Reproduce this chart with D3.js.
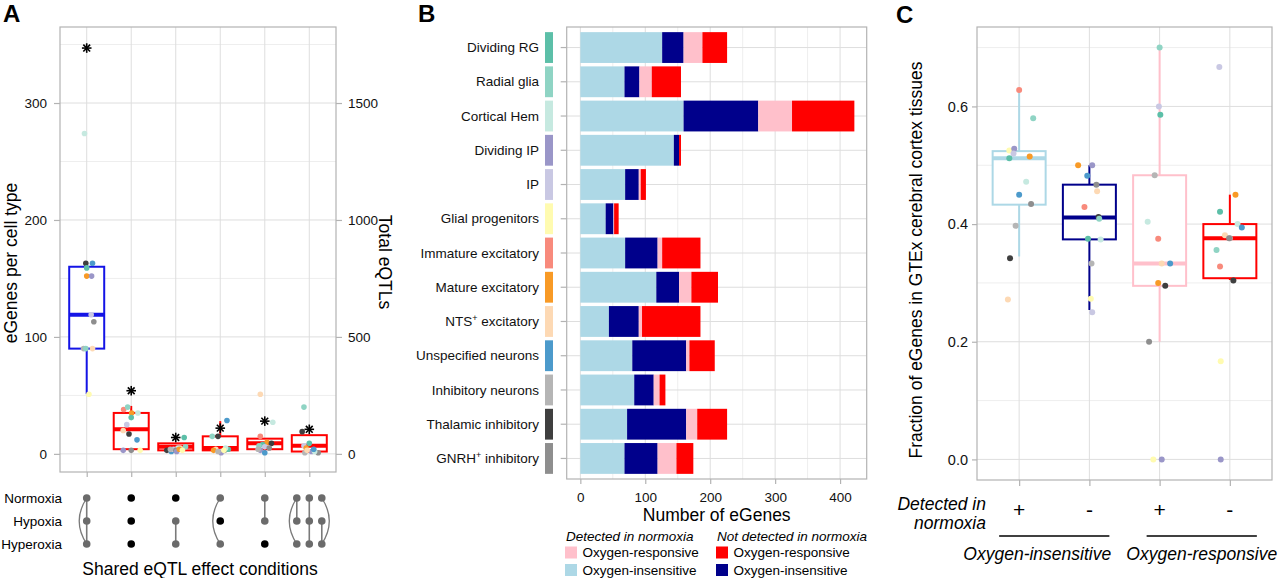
<!DOCTYPE html>
<html>
<head>
<meta charset="utf-8">
<script src="https://cdn.jsdelivr.net/npm/d3@7"></script>
<style>
    body { margin: 0; background: #fff; }
    text { font-family: "Liberation Sans", Arial, Helvetica, sans-serif; }
</style>
</head>
<body>
<svg id="fig" width="1280" height="578"></svg>
<script>
// ---- data ----
var cellTypes = ["Dividing RG", "Radial glia", "Cortical Hem", "Dividing IP", "IP", "Glial progenitors",
    "Immature excitatory", "Mature excitatory", "NTS+ excitatory", "Unspecified neurons",
    "Inhibitory neurons", "Thalamic inhibitory", "GNRH+ inhibitory"];
var cellColors = ["#5cbfa8", "#8fd4c4", "#c6e9e0", "#9a96c8", "#c9c8e3", "#fffbb0",
    "#f88a7c", "#f89a26", "#fdd9b4", "#4c9acb", "#b5b5b5", "#3f3f3f", "#8e8e8e"];

// panel A - eGenes per cell type by sharing pattern
var conditions = ["Normoxia", "Hypoxia", "Hyperoxia"];
var aLower = [90, 4, 3, 3, 4, 2];
var aMedian = [119, 21, 6, 5, 9, 7];
var aUpper = [160, 35, 9, 15, 13, 16];
var aWhiskLo = [51, 3, 2, 1, 1, 1];
var aWhiskHi = [163, 41, 9, 28, 13, 16];
var aBoxColors = ["#1414e6", "#ff0000", "#ff0000", "#ff0000", "#ff0000", "#ff0000"];
var totalEqtls = [1735, 270, 70, 110, 140, 105];
var aLeftTicks = [0, 100, 200, 300];
var aRightTicks = [0, 500, 1000, 1500];
// [cell type index, eGenes, jitter]
var aPoints = [
    [[2, 274, -0.05], [11, 163, -0.02], [9, 163, 0.13], [0, 159, 0.0], [7, 152, 0.0], [3, 152, 0.11], [4, 119, 0.1],
        [12, 113, 0.16], [10, 90, -0.07], [1, 90, -0.02], [8, 90, 0.13], [5, 51, 0.05]],
    [[6, 38, -0.17], [1, 40, -0.08], [7, 35, 0.01], [2, 35, 0.15], [0, 31, 0.0], [4, 25, -0.1], [8, 20, -0.18],
        [11, 17, -0.05], [9, 12, 0.13], [3, 3, -0.18], [12, 3, 0.0], [5, 3, 0.2]],
    [[0, 14, 0.19], [11, 3, -0.2], [9, 2, -0.1], [8, 5, 0.1], [1, 6, 0.22], [2, 5, 0.05], [4, 4, -0.05],
        [12, 3, 0.0], [3, 2, 0.02], [7, 4, 0.08], [5, 3, 0.15], [10, 4, -0.12]],
    [[9, 28.5, 0.15], [1, 15, -0.18], [11, 15, -0.05], [8, 4, -0.1], [7, 3, -0.15], [4, 2, 0.0], [3, 1, 0.02],
        [12, 3, 0.1], [0, 4, 0.18], [2, 5, 0.12], [10, 2, -0.05], [5, 3, 0.08]],
    [[8, 51, -0.1], [2, 27, 0.18], [6, 15, -0.1], [7, 10, 0.05], [11, 9, 0.15], [0, 8, -0.05], [1, 7, -0.13],
        [4, 6, 0.0], [3, 3, -0.1], [9, 1, 0.0], [12, 5, 0.1], [10, 4, -0.15]],
    [[1, 40, -0.12], [11, 19, -0.16], [0, 9, 0.0], [4, 7, -0.12], [7, 5, -0.07], [3, 2, 0.05], [12, 1, 0.2],
        [10, 1, -0.1], [2, 2, 0.12], [8, 3, -0.05], [9, 4, 0.1]]
];
// sharing pattern matrix: per column, sub-columns of [dot states, links]
// state 1 = condition specific (black), 0 = shared (grey); link type s=straight, l=arc left, r=arc right
var sharePatterns = [
    [{ dots: [0, 0, 0], links: [[0, 1, "s"], [1, 2, "s"], [0, 2, "l"]] }],
    [{ dots: [1, 1, 1], links: [] }],
    [{ dots: [1, 0, 0], links: [[1, 2, "s"]] }],
    [{ dots: [0, 1, 0], links: [[0, 2, "l"]] }],
    [{ dots: [0, 0, 1], links: [[0, 1, "s"]] }],
    [{ dots: [0, 0, 0], links: [[0, 1, "s"], [0, 2, "l"]] },
        { dots: [0, 0, 0], links: [[0, 1, "s"], [1, 2, "s"]] },
        { dots: [0, 0, 0], links: [[1, 2, "s"], [0, 2, "r"]] }]
];

// panel B - number of eGenes per cell type
var detInsensitive = [126, 68, 159, 144, 69, 39, 69, 117, 44, 80, 83, 72, 68];
var notDetInsensitive = [33, 23, 115, 8, 21, 12, 50, 35, 46, 83, 30, 91, 51];
var detResponsive = [29, 19, 52, 0, 3, 1, 7, 19, 5, 5, 9, 17, 29];
var notDetResponsive = [38, 45, 96, 3, 8, 7, 59, 41, 90, 39, 9, 46, 26];
var bTicks = [0, 100, 200, 300, 400];

// panel C - fraction of eGenes in GTEx cortex
var cGroups = ["ins+", "ins-", "resp+", "resp-"];
var cSigns = ["+", "-", "+", "-"];
var cLower = [0.433, 0.374, 0.295, 0.308];
var cMedian = [0.512, 0.411, 0.333, 0.376];
var cUpper = [0.524, 0.467, 0.483, 0.400];
var cWhiskLo = [0.345, 0.254, 0.200, 0.305];
var cWhiskHi = [0.628, 0.500, 0.700, 0.450];
var cBoxColors = ["#add8e6", "#00008b", "#ffc0cb", "#ff0000"];
var cTicks = [0, 0.2, 0.4, 0.6];
var cPoints = [
    [[6, 0.628, 0.0], [1, 0.58, 0.2], [5, 0.525, -0.14], [3, 0.528, -0.07], [4, 0.52, -0.08], [0, 0.512, -0.14],
        [7, 0.515, 0.15], [2, 0.472, 0.1], [9, 0.45, 0.0], [12, 0.434, 0.17], [10, 0.397, -0.05], [11, 0.342, -0.13], [8, 0.272, -0.16]],
    [[7, 0.5, -0.16], [3, 0.5, 0.04], [9, 0.482, -0.03], [12, 0.467, 0.1], [8, 0.456, 0.11], [6, 0.429, -0.07],
        [11, 0.412, 0.13], [1, 0.409, 0.14], [0, 0.375, -0.02], [2, 0.374, 0.16], [10, 0.333, 0.03], [5, 0.273, 0.02], [4, 0.25, 0.04]],
    [[1, 0.7, 0.0], [4, 0.6, -0.01], [0, 0.586, 0.01], [10, 0.483, -0.07], [2, 0.404, -0.17], [6, 0.375, -0.02],
        [8, 0.333, 0.03], [9, 0.333, 0.15], [7, 0.3, -0.02], [11, 0.295, 0.08], [12, 0.2, -0.15], [5, 0.0, -0.09], [3, 0.0, 0.03]],
    [[4, 0.667, -0.15], [7, 0.45, 0.08], [0, 0.421, -0.14], [2, 0.4, 0.11], [9, 0.394, 0.17], [8, 0.381, -0.07],
        [10, 0.376, 0.0], [12, 0.376, -0.01], [1, 0.356, -0.19], [6, 0.328, -0.14], [11, 0.304, 0.05], [5, 0.167, -0.13], [3, 0.0, -0.13]]
];

// ---- styles ----
var svg = d3.select("#fig");
var gridMajor = "#dedede";
var gridMinor = "#eeeeee";
var frameCol = "#b3b3b3";
var textCol = "#111";

function drawGrid(xs, ys, x0, x1, y0, y1, col) {
    xs.forEach(function (x) {
        svg.append("line").attr("x1", x).attr("x2", x).attr("y1", y0).attr("y2", y1)
            .attr("stroke", col).attr("stroke-width", 1);
    });
    ys.forEach(function (y) {
        svg.append("line").attr("x1", x0).attr("x2", x1).attr("y1", y).attr("y2", y)
            .attr("stroke", col).attr("stroke-width", 1);
    });
}

function drawFrame(x0, x1, y0, y1) {
    svg.append("rect").attr("x", x0).attr("y", y0).attr("width", x1 - x0).attr("height", y1 - y0)
        .attr("fill", "none").attr("stroke", frameCol).attr("stroke-width", 1.2);
}

function styleAxis(g, size) {
    g.select(".domain").remove();
    g.selectAll(".tick line").attr("stroke", frameCol).attr("stroke-width", 1.2);
    g.selectAll(".tick text").attr("fill", textCol).style("font-size", size + "px")
        .style("font-family", '"Liberation Sans", Arial, sans-serif');
}

function drawBox(cx, w, yScale, lo, q1, med, q3, hi, col) {
    svg.append("line").attr("x1", cx).attr("x2", cx).attr("y1", yScale(lo)).attr("y2", yScale(q1))
        .attr("stroke", col).attr("stroke-width", 2);
    svg.append("line").attr("x1", cx).attr("x2", cx).attr("y1", yScale(q3)).attr("y2", yScale(hi))
        .attr("stroke", col).attr("stroke-width", 2);
    svg.append("rect").attr("x", cx - w / 2).attr("y", yScale(q3)).attr("width", w)
        .attr("height", yScale(q1) - yScale(q3)).attr("fill", "#fff").attr("stroke", col).attr("stroke-width", 2);
    svg.append("line").attr("x1", cx - w / 2).attr("x2", cx + w / 2).attr("y1", yScale(med)).attr("y2", yScale(med))
        .attr("stroke", col).attr("stroke-width", 4);
}

function panelLetter(txt, x, y) {
    svg.append("text").attr("x", x).attr("y", y).text(txt)
        .style("font-size", "24px").style("font-weight", "bold").attr("fill", "#000");
}

// ================= Panel A =================
var aL = 60, aR = 336, aT = 27, aB = 472;
var aX = d3.scalePoint().domain(d3.range(6)).range([aL, aR]).padding(0.6);
var aY = d3.scaleLinear().domain([-15.5, 365]).range([aB, aT]);
var aY2 = d3.scaleLinear().domain([-77.5, 1825]).range([aB, aT]);

drawGrid([], [50, 150, 250, 350].map(aY), aL, aR, aT, aB, gridMinor);
drawGrid(d3.range(6).map(aX), aLeftTicks.map(aY), aL, aR, aT, aB, gridMajor);
drawFrame(aL, aR, aT, aB);

svg.append("g").attr("transform", "translate(" + aL + ",0)")
    .call(d3.axisLeft(aY).tickValues(aLeftTicks).tickSize(6).tickPadding(7))
    .call(styleAxis, 13.5);
svg.append("g").attr("transform", "translate(" + aR + ",0)")
    .call(d3.axisRight(aY2).tickValues(aRightTicks).tickFormat(d3.format("d")).tickSize(6).tickPadding(6))
    .call(styleAxis, 13.5);
svg.append("g").attr("transform", "translate(0," + aB + ")")
    .call(d3.axisBottom(aX).tickFormat("").tickSize(5))
    .call(styleAxis, 13.5);

var aStep = aX.step();
d3.range(6).forEach(function (i) {
    drawBox(aX(i), 35, aY, aWhiskLo[i], aLower[i], aMedian[i], aUpper[i], aWhiskHi[i], aBoxColors[i]);
});
aPoints.forEach(function (pts, i) {
    svg.append("g").selectAll("circle").data(pts).enter().append("circle")
        .attr("cx", function (d) { return aX(i) + d[2] * aStep; })
        .attr("cy", function (d) { return aY(d[1]); })
        .attr("r", 2.8)
        .attr("fill", function (d) { return cellColors[d[0]]; });
});

// asterisks = total eQTLs (right axis)
totalEqtls.forEach(function (v, i) {
    var cx = aX(i), cy = aY2(v), r = 4.8;
    var g = svg.append("g").attr("transform", "translate(" + cx + "," + cy + ")");
    [0, 45, 90, 135].forEach(function (a) {
        var rad = a * Math.PI / 180;
        g.append("line").attr("x1", -r * Math.cos(rad)).attr("y1", -r * Math.sin(rad))
            .attr("x2", r * Math.cos(rad)).attr("y2", r * Math.sin(rad))
            .attr("stroke", "#000").attr("stroke-width", 1.6);
    });
});

svg.append("text").attr("transform", "translate(16.5,263) rotate(-90)").attr("text-anchor", "middle")
    .style("font-size", "17.5px").attr("fill", "#000").text("eGenes per cell type");
svg.append("text").attr("transform", "translate(379,262) rotate(90)").attr("text-anchor", "middle")
    .style("font-size", "17.5px").attr("fill", "#000").text("Total eQTLs");

// sharing matrix below panel A
var rowY = d3.scalePoint().domain(conditions).range([498, 544]);
conditions.forEach(function (c) {
    svg.append("text").attr("x", 62).attr("y", rowY(c) + 4.7).attr("text-anchor", "end")
        .style("font-size", "13.5px").attr("fill", "#000").text(c);
});
sharePatterns.forEach(function (subs, i) {
    var offs = subs.length === 1 ? [0] : [-12.5, 0, 12.5];
    subs.forEach(function (s, k) {
        var x = aX(i) + offs[k];
        s.links.forEach(function (lk) {
            var y1 = rowY(conditions[lk[0]]), y2 = rowY(conditions[lk[1]]);
            if (lk[2] === "s") {
                svg.append("line").attr("x1", x).attr("x2", x).attr("y1", y1).attr("y2", y2)
                    .attr("stroke", "#7a7a7a").attr("stroke-width", 1.6);
            } else {
                var bx = lk[2] === "l" ? x - 15 : x + 15;
                svg.append("path").attr("d", "M" + x + "," + y1 + " Q" + bx + "," + ((y1 + y2) / 2) + " " + x + "," + y2)
                    .attr("fill", "none").attr("stroke", "#7a7a7a").attr("stroke-width", 1.3);
            }
        });
        s.dots.forEach(function (st, r) {
            svg.append("circle").attr("cx", x).attr("cy", rowY(conditions[r])).attr("r", 3.8)
                .attr("fill", st ? "#000" : "#6b6b6b");
        });
    });
});
svg.append("text").attr("x", 200).attr("y", 575).attr("text-anchor", "middle")
    .style("font-size", "17.5px").attr("fill", "#000").text("Shared eQTL effect conditions");

panelLetter("A", 3, 22);

// ================= Panel B =================
var bL = 566.7, bR = 866.7, bT = 27, bB = 479;
var bX = d3.scaleLinear().domain([-21, 441]).range([bL, bR]);
var bY = d3.scaleBand().domain(cellTypes).range([bT, bB]).paddingInner(0.1).paddingOuter(0.15);

drawGrid([50, 150, 250, 350].map(bX), [], bL, bR, bT, bB, gridMinor);
drawGrid(bTicks.map(bX), cellTypes.map(function (c) { return bY(c) + bY.bandwidth() / 2; }), bL, bR, bT, bB, gridMajor);
drawFrame(bL, bR, bT, bB);

var bRows = cellTypes.map(function (c, i) {
    return { cell: c, di: detInsensitive[i], ni: notDetInsensitive[i], dr: detResponsive[i], nr: notDetResponsive[i] };
});
var bKeys = ["di", "ni", "dr", "nr"];
var bColors = { di: "#add8e6", ni: "#00008b", dr: "#ffc0cb", nr: "#ff0000" };
var stacked = d3.stack().keys(bKeys)(bRows);
svg.append("g").selectAll("g").data(stacked).enter().append("g")
    .attr("fill", function (d) { return bColors[d.key]; })
    .selectAll("rect").data(function (d) { return d; }).enter().append("rect")
    .attr("x", function (d) { return bX(d[0]); })
    .attr("width", function (d) { return bX(d[1]) - bX(d[0]); })
    .attr("y", function (d) { return bY(d.data.cell); })
    .attr("height", bY.bandwidth());

svg.append("g").attr("transform", "translate(" + bL + ",0)")
    .call(d3.axisLeft(bY).tickFormat("").tickSize(6))
    .call(styleAxis, 13.5);
svg.append("g").attr("transform", "translate(0," + bB + ")")
    .call(d3.axisBottom(bX).tickValues(bTicks).tickSize(5).tickPadding(8))
    .call(styleAxis, 13.5);

// category labels (with superscript +) and colour strips
cellTypes.forEach(function (c, i) {
    var cy = bY(c) + bY.bandwidth() / 2;
    var t = svg.append("text").attr("x", 539).attr("y", cy + 4.7).attr("text-anchor", "end")
        .style("font-size", "13.5px").attr("fill", textCol);
    var pos = c.indexOf("+");
    if (pos < 0) {
        t.text(c);
    } else {
        t.append("tspan").text(c.slice(0, pos));
        t.append("tspan").attr("dy", -5).style("font-size", "9px").text("+");
        t.append("tspan").attr("dy", 5).text(c.slice(pos + 1));
    }
    svg.append("rect").attr("x", 545).attr("y", bY(c)).attr("width", 8).attr("height", bY.bandwidth())
        .attr("fill", cellColors[i]);
});

svg.append("text").attr("x", (bL + bR) / 2).attr("y", 521).attr("text-anchor", "middle")
    .style("font-size", "17.5px").attr("fill", "#000").text("Number of eGenes");

// legend
var legendCols = [
    { title: "Detected in normoxia", x: 565, keys: ["dr", "di"] },
    { title: "Not detected in normoxia", x: 716, keys: ["nr", "ni"] }
];
var legendLabels = { dr: "Oxygen-responsive", di: "Oxygen-insensitive", nr: "Oxygen-responsive", ni: "Oxygen-insensitive" };
legendCols.forEach(function (col) {
    svg.append("text").attr("x", col.x + 1).attr("y", 540.5).style("font-size", "13.5px")
        .style("font-style", "italic").attr("fill", "#000").text(col.title);
    col.keys.forEach(function (k, j) {
        var ky = 546.5 + j * 17.5;
        svg.append("rect").attr("x", col.x).attr("y", ky).attr("width", 12).attr("height", 12)
            .attr("fill", bColors[k]);
        svg.append("text").attr("x", col.x + 17.5).attr("y", ky + 10.5).style("font-size", "13.5px")
            .attr("fill", "#000").text(legendLabels[k]);
    });
});

panelLetter("B", 418, 22);

// ================= Panel C =================
var cL = 977, cR = 1272, cT = 27, cB = 480;
var cX = d3.scalePoint().domain(cGroups).range([cL, cR]).padding(0.6);
var cY = d3.scaleLinear().domain([-0.035, 0.735]).range([cB, cT]);

drawGrid([], [0.1, 0.3, 0.5, 0.7].map(cY), cL, cR, cT, cB, gridMinor);
drawGrid(cGroups.map(cX), cTicks.map(cY), cL, cR, cT, cB, gridMajor);
drawFrame(cL, cR, cT, cB);

svg.append("g").attr("transform", "translate(" + cL + ",0)")
    .call(d3.axisLeft(cY).tickValues(cTicks).tickFormat(d3.format(".1f")).tickSize(5).tickPadding(4))
    .call(styleAxis, 14.5);
svg.append("g").attr("transform", "translate(0," + cB + ")")
    .call(d3.axisBottom(cX).tickFormat("").tickSize(6))
    .call(styleAxis, 14.5);

var cStep = cX.step();
cGroups.forEach(function (g, i) {
    drawBox(cX(g), 53, cY, cWhiskLo[i], cLower[i], cMedian[i], cUpper[i], cWhiskHi[i], cBoxColors[i]);
});
cPoints.forEach(function (pts, i) {
    svg.append("g").selectAll("circle").data(pts).enter().append("circle")
        .attr("cx", function (d) { return cX(cGroups[i]) + d[2] * cStep; })
        .attr("cy", function (d) { return cY(d[1]); })
        .attr("r", 3)
        .attr("fill", function (d) { return cellColors[d[0]]; });
});

svg.append("text").attr("transform", "translate(922,260) rotate(-90)").attr("text-anchor", "middle")
    .style("font-size", "17.5px").attr("fill", "#000").text("Fraction of eGenes in GTEx cerebral cortex tissues");

// group annotation below panel C
cGroups.forEach(function (g, i) {
    svg.append("text").attr("x", cX(g)).attr("y", 517).attr("text-anchor", "middle")
        .style("font-size", "21px").attr("fill", "#000").text(cSigns[i]);
});
svg.append("text").attr("x", 986).attr("y", 510).attr("text-anchor", "end").style("font-size", "17.5px")
    .style("font-style", "italic").attr("fill", "#000").text("Detected in");
svg.append("text").attr("x", 986).attr("y", 528.5).attr("text-anchor", "end").style("font-size", "17.5px")
    .style("font-style", "italic").attr("fill", "#000").text("normoxia");

// underline extents relative to group centres, and label shift
var groupSpans = [
    { from: "ins+", to: "ins-", pad0: -20, pad1: 20, shift: -17, label: "Oxygen-insensitive" },
    { from: "resp+", to: "resp-", pad0: -13, pad1: 27, shift: 0, label: "Oxygen-responsive" }
];
groupSpans.forEach(function (s) {
    var x0 = cX(s.from) + s.pad0, x1 = cX(s.to) + s.pad1;
    svg.append("line").attr("x1", x0).attr("x2", x1).attr("y1", 536).attr("y2", 536)
        .attr("stroke", "#000").attr("stroke-width", 1.5);
    svg.append("text").attr("x", (x0 + x1) / 2 + s.shift).attr("y", 560).attr("text-anchor", "middle")
        .style("font-size", "17.5px").style("font-style", "italic").attr("fill", "#000").text(s.label);
});

panelLetter("C", 896, 23);
</script>
</body>
</html>
